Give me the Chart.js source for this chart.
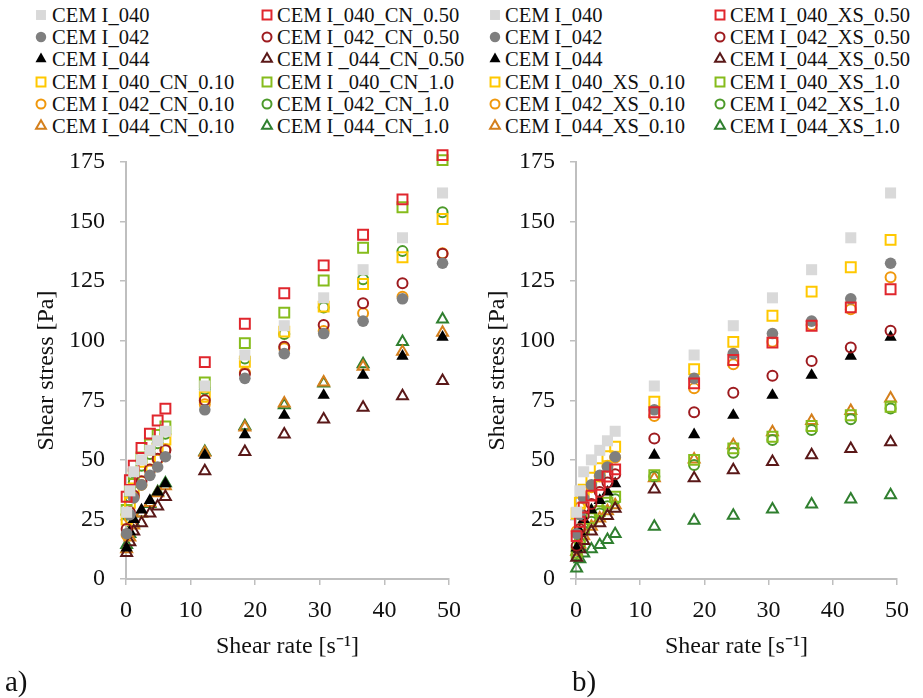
<!DOCTYPE html>
<html>
<head>
<meta charset="utf-8">
<title>Shear stress vs shear rate</title>
<script src="https://cdn.jsdelivr.net/npm/chart.js@4.4.1/dist/chart.umd.min.js"></script>
<style>
    html, body { margin: 0; padding: 0; background: #fff; }
    body {
        width: 923px; height: 698px; position: relative; overflow: hidden;
        font-family: 'Liberation Serif', 'Times New Roman', serif; color: #111;
    }
    .panel { position: absolute; top: 140px; height: 558px; }
    .legend-item {
        position: absolute; height: 22px; line-height: 22px;
        font-size: 20.5px; white-space: nowrap;
    }
    .legend-item canvas { position: absolute; top: 3px; }
    .tag { position: absolute; font-size: 29px; line-height: 32px; }
</style>
</head>
<body>
<div id="legendA"></div>
<div id="legendB"></div>
<div class="panel" style="left:0;width:460px"><canvas id="chartA" width="460" height="558"></canvas></div>
<div class="panel" style="left:460px;width:463px"><canvas id="chartB" width="463" height="558"></canvas></div>
<div class="tag" style="left:5px;top:665px">a)</div>
<div class="tag" style="left:572px;top:665px">b)</div>
<script>
(function() {
    'use strict';

    // Shear rate steps of the flow curve [1/s]
    var shearRate = [0.1, 0.6, 1.2, 2.4, 3.7, 4.9, 6.1, 12.2, 18.4, 24.5, 30.6, 36.7, 42.8, 49.0];

    // Plain pastes, shown in both panels
    var cem040 = [28, 37, 45, 50, 54, 58, 62, 81, 94, 106.3, 118, 129.8, 143.2, 162];
    var cem042 = [19, 27, 34, 39.5, 43.5, 47, 51.3, 71, 84.2, 94.6, 103, 108.2, 117.6, 132.5];
    var cem044 = [13, 20, 25, 29, 33, 36.5, 40, 52, 60.6, 68.7, 77.1, 85.5, 93.5, 101.5];

    // CN admixture series (panel a)
    var cn040_010 = [25, 32, 38, 45, 50, 54.5, 58.5, 76.5, 91.2, 103.8, 114.3, 123.8, 135, 151.1];
    var cn042_010 = [18.5, 25.5, 34.5, 39.5, 45.5, 50, 54.5, 73.3, 86.7, 96.8, 104.1, 111.5, 118.5, 136.7];
    var cn044_010 = [12.5, 17.5, 22.5, 27.5, 32, 36, 39, 53, 63.6, 73.7, 82.5, 89.1, 95.4, 103.4];
    var cn040_050 = [34.5, 41.5, 47.5, 55, 61, 66.5, 71.5, 91, 107.1, 119.9, 131.6, 144.5, 159.3, 177.9];
    var cn042_050 = [21, 28, 35, 41, 46, 50.5, 54, 75, 86, 97.5, 106.6, 115.7, 124.1, 136.5];
    var cn044_050 = [11, 15.5, 20, 23.5, 27.5, 30.5, 34.5, 45.3, 53.4, 60.7, 67, 71.9, 76.8, 83.2];
    var cn040_100 = [29, 36.5, 44, 51, 56.5, 60.5, 64, 82.5, 99, 111.8, 125.3, 139, 156, 175.8];
    var cn042_100 = [27, 34.5, 40.5, 47.5, 52.5, 57, 61, 79.6, 92.5, 102.8, 113.9, 125.8, 137.6, 153.9];
    var cn044_100 = [14.3, 19, 23.5, 27.5, 31.5, 36.5, 40.2, 53.4, 64.2, 73, 82.1, 90.2, 99.5, 109];

    // XS admixture series (panel b)
    var xs040_010 = [27.5, 32, 37.5, 42.5, 46.5, 51.5, 55.5, 74.4, 88, 99.5, 110.5, 120.6, 130.8, 142.3];
    var xs042_010 = [20, 30, 34.5, 38.5, 43, 47.5, 51, 68.4, 80, 90.1, 99.6, 106.6, 113.2, 126.6];
    var xs044_010 = [11.5, 14.5, 18, 22, 25.5, 28.5, 31, 42.3, 50.2, 56.2, 61.7, 66.4, 70.6, 75.8];
    var xs040_050 = [18, 24, 30, 35, 39.5, 43, 46, 70, 82.1, 91.9, 99.2, 106.3, 114, 121.6];
    var xs042_050 = [14, 21, 26.5, 31.5, 36.5, 40.5, 44, 59, 70, 78.2, 85.3, 91.5, 97.2, 104.2];
    var xs044_050 = [9, 12.5, 16, 20, 23.5, 26.5, 29.5, 37.6, 42.3, 45.7, 49.2, 52, 54.6, 57.4];
    var xs040_100 = [11, 16.5, 21.5, 25.5, 28.5, 32, 34.5, 43.6, 50, 54.8, 59.7, 64.2, 68.7, 72.3];
    var xs042_100 = [10, 15, 20, 24, 27.5, 30.5, 33.5, 43, 47.8, 53, 58.3, 62.5, 67, 71.6];
    var xs044_100 = [4.5, 8.3, 10.8, 12.5, 14.3, 16.4, 18.9, 22, 24.5, 26.6, 29.2, 31.3, 33.4, 35.2];

    var xTicks = [0, 10, 20, 30, 40, 50];
    var yTicks = [0, 25, 50, 75, 100, 125, 150, 175];

    var axisGrey = '#BFBFBF';
    var textColor = '#111';
    var tickFont = { family: 'Liberation Serif', size: 24, lineHeight: 1.2 };
    var titleFont = { family: 'Liberation Serif', size: 24, lineHeight: 1.2 };

    var radiusFor = { rect: 7, circle: 5, triangle: 6.3 };

    /**
     * Build one scatter dataset from a value list.
     */
    function series(label, values, color, style, filled) {
        return {
            label: label,
            data: values.map(function(v, i) { return { x: shearRate[i], y: v }; }),
            pointStyle: style,
            pointRadius: filled ? radiusFor[style] + 0.8 : radiusFor[style],
            pointBorderWidth: filled ? 0 : 2,
            pointBorderColor: color,
            pointBackgroundColor: filled ? color : 'rgba(0,0,0,0)',
            showLine: false,
            clip: false
        };
    }

    // Dataset order follows the legend, read row by row
    function panelDatasets(tag, s) {
        return [
            series('CEM I_040', cem040, '#D9D9D9', 'rect', true),
            series('CEM I_040_' + tag + '_0.50', s.a050, '#E0262D', 'rect', false),
            series('CEM I_042', cem042, '#7F7F7F', 'circle', true),
            series('CEM I_042_' + tag + '_0.50', s.b050, '#9E1B1F', 'circle', false),
            series('CEM I_044', cem044, '#000000', 'triangle', true),
            series(s.gap + '044_' + tag + '_0.50', s.c050, '#5A1818', 'triangle', false),
            series('CEM I_040_' + tag + '_0.10', s.a010, '#FFC800', 'rect', false),
            series(s.gap + '040_' + tag + '_1.0', s.a100, '#86BC1C', 'rect', false),
            series('CEM I_042_' + tag + '_0.10', s.b010, '#F0980C', 'circle', false),
            series('CEM I_042_' + tag + '_1.0', s.b100, '#4C9A2A', 'circle', false),
            series('CEM I_044_' + tag + '_0.10', s.c010, '#D47F1C', 'triangle', false),
            series('CEM I_044_' + tag + '_1.0', s.c100, '#2F7F2F', 'triangle', false)
        ];
    }

    function fixedTicks(values) {
        return function(scale) {
            scale.ticks = values.map(function(v) { return { value: v }; });
        };
    }

    function buildOptions(padLeft, padRight, yWidth) {
        return {
            responsive: false,
            animation: false,
            events: [],
            layout: { padding: { left: padLeft, right: padRight, top: 22, bottom: 37 } },
            plugins: { legend: { display: false }, tooltip: { enabled: false } },
            scales: {
                x: {
                    type: 'linear', min: 0, max: 50,
                    afterBuildTicks: fixedTicks(xTicks),
                    ticks: { font: tickFont, color: textColor, padding: 11, maxRotation: 0 },
                    grid: { drawOnChartArea: false, tickLength: 6, color: axisGrey, lineWidth: 1.5 },
                    border: { color: axisGrey, width: 2 },
                    title: {
                        display: true, text: 'Shear rate [s\u207B\u00B9]', font: titleFont,
                        color: textColor, padding: { top: 0, bottom: 0 }
                    },
                    afterFit: function(s) {
                        s.height = 82;
                        s.paddingLeft = 0;
                        s.paddingRight = 0;
                    }
                },
                y: {
                    type: 'linear', min: 0, max: 175,
                    afterBuildTicks: fixedTicks(yTicks),
                    ticks: { font: tickFont, color: textColor, padding: 15 },
                    grid: { drawOnChartArea: false, tickLength: 6, color: axisGrey, lineWidth: 1.5 },
                    border: { color: axisGrey, width: 2 },
                    title: {
                        display: true, text: 'Shear stress [Pa]', font: titleFont,
                        color: textColor, padding: { top: 0, bottom: 0 }
                    },
                    afterFit: function(s) {
                        s.width = yWidth;
                        s.paddingTop = 0;
                        s.paddingBottom = 0;
                    }
                }
            }
        };
    }

    /**
     * Two-column HTML legend, filled row by row like the dataset order.
     */
    function renderLegend(containerId, datasets, markerX, textX) {
        var box = document.getElementById(containerId);
        datasets.forEach(function(ds, i) {
            var col = i % 2;
            var row = Math.floor(i / 2);
            var item = document.createElement('div');
            item.className = 'legend-item';
            item.style.left = (markerX[col] - 8) + 'px';
            item.style.top = (4 + row * 22.2) + 'px';

            var c = document.createElement('canvas');
            c.width = 16; c.height = 16;
            c.style.left = '0px';
            var ctx = c.getContext('2d');
            ctx.fillStyle = ds.pointBackgroundColor;
            ctx.strokeStyle = ds.pointBorderColor;
            ctx.lineWidth = ds.pointBorderWidth;
            Chart.helpers.drawPoint(ctx, {
                pointStyle: ds.pointStyle,
                radius: ds.pointRadius * 0.9,
                rotation: 0,
                borderWidth: ds.pointBorderWidth
            }, 8, 8);
            item.appendChild(c);

            var span = document.createElement('span');
            span.textContent = ds.label;
            span.style.position = 'absolute';
            span.style.left = (textX[col] - markerX[col] + 8) + 'px';
            item.appendChild(span);
            box.appendChild(item);
        });
    }

    var dsA = panelDatasets('CN', {
        gap: 'CEM I _',
        a010: cn040_010, b010: cn042_010, c010: cn044_010,
        a050: cn040_050, b050: cn042_050, c050: cn044_050,
        a100: cn040_100, b100: cn042_100, c100: cn044_100
    });
    var dsB = panelDatasets('XS', {
        gap: 'CEM I_',
        a010: xs040_010, b010: xs042_010, c010: xs044_010,
        a050: xs040_050, b050: xs042_050, c050: xs044_050,
        a100: xs040_100, b100: xs042_100, c100: xs044_100
    });

    new Chart(document.getElementById('chartA'), {
        type: 'scatter',
        data: { datasets: dsA },
        options: buildOptions(32, 11, 94)
    });
    new Chart(document.getElementById('chartB'), {
        type: 'scatter',
        data: { datasets: dsB },
        options: buildOptions(23, 26, 93)
    });

    renderLegend('legendA', dsA, [41, 267], [52, 277]);
    renderLegend('legendB', dsB, [495, 720], [505, 730]);
})();
</script>
</body>
</html>
